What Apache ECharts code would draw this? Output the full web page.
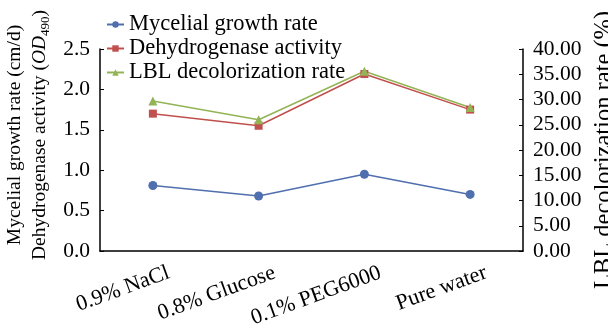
<!DOCTYPE html>
<html>
<head>
<meta charset="utf-8">
<script src="https://cdn.jsdelivr.net/npm/echarts@6/dist/echarts.min.js"></script>
<style>
  html, body { margin: 0; padding: 0; background: #fff; }
  #main { width: 608px; height: 329px; }
</style>
</head>
<body>
<div id="main"></div>
<script>
// data
var categories = ['0.9% NaCl', '0.8% Glucose', '0.1% PEG6000', 'Pure water'];
var myceliumGrowth = [0.81, 0.68, 0.95, 0.70];
var dehydrogenase = [1.70, 1.55, 2.19, 1.75];
var lblDecolor = [29.7, 26.0, 35.6, 28.4];

var font = '"Liberation Serif", "Times New Roman", serif';
var black = '#000';

var chart = echarts.init(document.getElementById('main'));
var option = {
  textStyle: { fontFamily: font, color: black },
  animation: false,
  legend: {
    orient: 'vertical',
    left: 101,
    top: 8,
    itemGap: 1,
    itemWidth: 17,
    itemHeight: 8,
    textStyle: { fontFamily: font, fontSize: 22.5, color: black },
    data: ['Mycelial growth rate', 'Dehydrogenase activity', 'LBL decolorization rate']
  },
  grid: { left: 100, right: 85, top: 49, bottom: 78, outerBoundsMode: 'none' },
  xAxis: {
    type: 'category',
    data: categories,
    axisLine: { lineStyle: { color: black, width: 1.5 } },
    axisTick: { inside: true, length: 4, lineStyle: { color: black } },
    axisLabel: { rotate: 20, fontSize: 22, color: black, fontFamily: font, margin: 27,
      interval: 0, padding: [0, -17, 0, 0] }
  },
  yAxis: [
    {
      type: 'value',
      min: 0, max: 2.5, interval: 0.5,
      splitLine: { show: false },
      axisLine: { show: true, lineStyle: { color: black, width: 1.5 } },
      axisTick: { show: true, inside: true, length: 4, lineStyle: { color: black } },
      axisLabel: { fontSize: 21.5, color: black, fontFamily: font, margin: 10,
        formatter: function (v) { return v.toFixed(1); } },
      name: '{a|Mycelial growth rate (cm/d)}\n{a|Dehydrogenase activity (}{i|OD}{s|490}{a|)}',
      nameLocation: 'middle',
      nameRotate: 90,
      nameGap: 44,
      nameTextStyle: {
        padding: [0, 0, 0, 30],
        rich: {
          a: { fontSize: 19.5, fontFamily: font, color: black, lineHeight: 25 },
          i: { fontSize: 19.5, fontFamily: font, color: black, fontStyle: 'italic', lineHeight: 25 },
          s: { fontSize: 13, fontFamily: font, color: black, verticalAlign: 'bottom', padding: [7, 0, 0, 0], lineHeight: 25 }
        }
      }
    },
    {
      type: 'value',
      min: 0, max: 40, interval: 5,
      splitLine: { show: false },
      axisLine: { show: true, lineStyle: { color: black, width: 1.5 } },
      axisTick: { show: true, inside: true, length: 4, lineStyle: { color: black } },
      axisLabel: { fontSize: 21.5, color: black, fontFamily: font, margin: 10,
        formatter: function (v) { return v.toFixed(2); } },
      name: 'LBL decolorization rate (%)',
      nameLocation: 'middle',
      nameRotate: 90,
      nameGap: 56,
      nameTextStyle: { fontSize: 24.5, fontFamily: font, color: black }
    }
  ],
  series: [
    {
      name: 'Mycelial growth rate',
      type: 'line',
      yAxisIndex: 0,
      data: myceliumGrowth,
      symbol: 'circle',
      symbolSize: 9,
      itemStyle: { color: '#4f6fae' },
      lineStyle: { width: 1.5, color: '#4f6fae' }
    },
    {
      name: 'Dehydrogenase activity',
      type: 'line',
      yAxisIndex: 0,
      data: dehydrogenase,
      symbol: 'rect',
      symbolSize: 8,
      itemStyle: { color: '#c0504d' },
      lineStyle: { width: 1.5, color: '#c0504d' }
    },
    {
      name: 'LBL decolorization rate',
      type: 'line',
      yAxisIndex: 1,
      data: lblDecolor,
      symbol: 'triangle',
      symbolSize: 9,
      itemStyle: { color: '#93b356' },
      lineStyle: { width: 1.5, color: '#93b356' }
    }
  ]
};
chart.setOption(option);
</script>
</body>
</html>
